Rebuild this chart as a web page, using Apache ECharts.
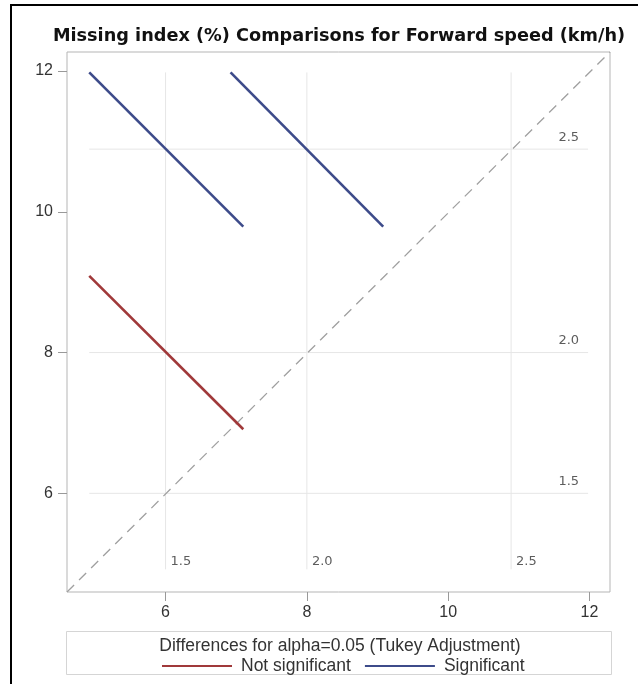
<!DOCTYPE html>
<html>
<head>
<meta charset="utf-8">
<script src="https://cdn.jsdelivr.net/npm/echarts@6/dist/echarts.min.js"></script>
<style>
html,body{margin:0;padding:0;background:#fff;}
#c{width:638px;height:684px;}
</style>
</head>
<body>
<div id="c"></div>
<script>
// ---- data ----
var levels = ['1.5', '2.0', '2.5'];
var levelMeans = [6.0, 8.0, 10.89];
var refRange = [4.92, 11.98];
// segment endpoints: [x1, y1, x2, y2]
var sigSegX1 = [4.92, 6.92];
var sigSegY1 = [11.98, 11.98];
var sigSegX2 = [7.10, 9.08];
var sigSegY2 = [9.79, 9.79];
var nsSegX1 = [4.92];
var nsSegY1 = [9.09];
var nsSegX2 = [7.10];
var nsSegY2 = [6.91];
var xTicks = [6, 8, 10, 12];
var yTicks = [6, 8, 10, 12];
var xExtent = [4.605, 12.29];
var yExtent = [4.598, 12.27];

var BLUE = '#3d4b8a', RED = '#a0393a';
var chart = echarts.init(document.getElementById('c'));
var series = [];

// reference grid lines at level means
levelMeans.forEach(function (m) {
  series.push({type: 'line', silent: true, symbol: 'none', z: 1,
    lineStyle: {color: '#e6e6e6', width: 1},
    data: [[refRange[0], m], [refRange[1], m]]});
  series.push({type: 'line', silent: true, symbol: 'none', z: 1,
    lineStyle: {color: '#e6e6e6', width: 1},
    data: [[m, refRange[0]], [m, refRange[1]]]});
});
// diagonal
series.push({type: 'line', silent: true, symbol: 'none', z: 2,
  lineStyle: {color: '#a0a0a0', width: 1.3, type: [10, 7]},
  data: [[xExtent[0], yExtent[0]], [xExtent[1], yExtent[1]]]});

function addSegs(name, color, X1, Y1, X2, Y2) {
  for (var i = 0; i < X1.length; i++) {
    series.push({type: 'line', name: name, symbol: 'none', z: 5,
      color: color,
      lineStyle: {color: color, width: 2.6},
      data: [[X1[i], Y1[i]], [X2[i], Y2[i]]]});
  }
}
addSegs('Not significant', RED, nsSegX1, nsSegY1, nsSegX2, nsSegY2);
addSegs('Significant', BLUE, sigSegX1, sigSegY1, sigSegX2, sigSegY2);

// level labels
var lblStyle = {show: true, color: '#333', fontSize: 13, fontFamily: 'DejaVu Sans'};
series.push({type: 'scatter', symbolSize: 0, silent: true,
  data: levelMeans.map(function (m, i) { return {value: [refRange[1], m], name: levels[i]}; }),
  label: Object.assign({}, lblStyle, {formatter: '{b}', position: 'left', offset: [-4, -12]})});
series.push({type: 'scatter', symbolSize: 0, silent: true,
  data: levelMeans.map(function (m, i) { return {value: [m, 5.03], name: levels[i]}; }),
  label: Object.assign({}, lblStyle, {formatter: '{b}', position: 'right', offset: [0, 0]})});

var axisCommon = {
  type: 'value',
  axisLine: {show: false},
  splitLine: {show: false},
  axisTick: {show: true, length: 9, lineStyle: {color: '#999'}},
  axisLabel: {color: '#333', fontSize: 16, margin: 13, fontFamily: 'Liberation Sans'}
};

chart.setOption({
  animation: false,
  backgroundColor: '#fff',
  title: [{
    text: 'Missing index (%) Comparisons for Forward speed (km/h)',
    left: 334, top: 22, textAlign: 'center',
    textStyle: {fontSize: 17.7, fontWeight: 'bold', color: '#111', fontFamily: 'DejaVu Sans'}
  }, {
    text: 'Differences for alpha=0.05 (Tukey Adjustment)',
    left: 335, top: 632, textAlign: 'center',
    textStyle: {fontSize: 17.5, fontWeight: 'normal', color: '#333', fontFamily: 'Liberation Sans'}
  }],
  legend: {
    top: 652, left: 157,
    data: [{name: 'Not significant', icon: 'rect'}, {name: 'Significant', icon: 'rect'}],
    itemWidth: 70, itemHeight: 2, itemGap: 14,
    textStyle: {fontSize: 17.5, color: '#333', fontFamily: 'Liberation Sans', padding: [0, 0, 0, 4]}
  },
  grid: {left: 67, top: 52, right: 28, bottom: 92, show: true, borderColor: '#b5b5b5', borderWidth: 1, backgroundColor: 'transparent'},
  xAxis: Object.assign({}, axisCommon, {min: xExtent[0], max: xExtent[1],
    axisLabel: Object.assign({}, axisCommon.axisLabel, {customValues: xTicks}),
    axisTick: Object.assign({}, axisCommon.axisTick, {customValues: xTicks})}),
  yAxis: Object.assign({}, axisCommon, {min: yExtent[0], max: yExtent[1],
    axisLabel: Object.assign({}, axisCommon.axisLabel, {customValues: yTicks, margin: 14}),
    axisTick: Object.assign({}, axisCommon.axisTick, {customValues: yTicks})}),
  graphic: [
    {type: 'rect', shape: {x: 66.5, y: 631.5, width: 545, height: 43}, style: {fill: 'none', stroke: '#d5d5d5', lineWidth: 1}, silent: true},
    {type: 'line', shape: {x1: 11, y1: 5, x2: 11, y2: 684}, style: {stroke: '#000', lineWidth: 2}, silent: true},
    {type: 'line', shape: {x1: 10, y1: 5, x2: 638, y2: 5}, style: {stroke: '#000', lineWidth: 2}, silent: true}
  ],
  series: series
});
</script>
</body>
</html>
